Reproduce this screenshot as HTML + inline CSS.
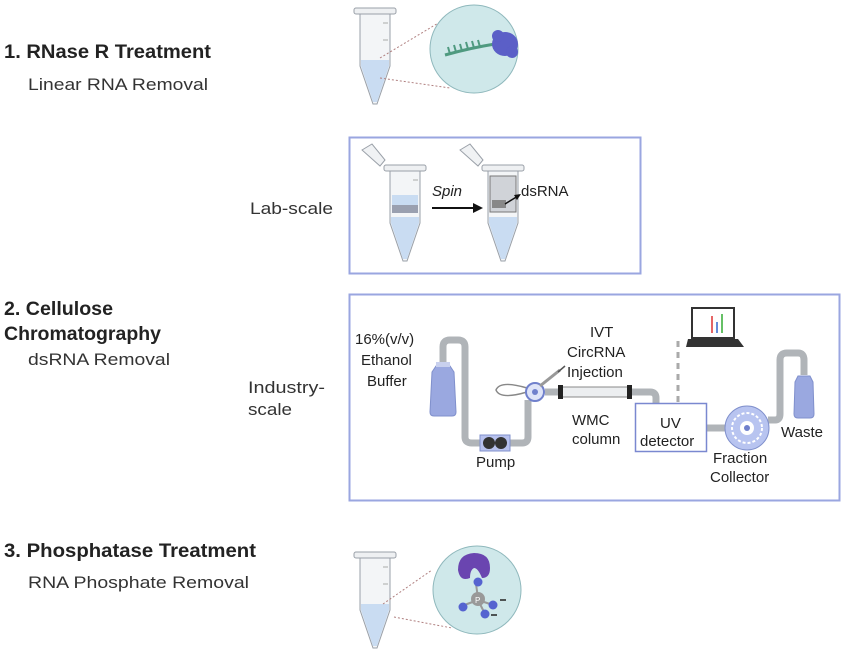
<!DOCTYPE html>
<html><head><meta charset="utf-8"><style>
html,body{margin:0;padding:0;background:#fff;}
svg{display:block;font-family:"Liberation Sans",Arial,sans-serif;}
</style></head><body>
<svg width="849" height="654" viewBox="0 0 849 654" xmlns="http://www.w3.org/2000/svg">
<defs>
<g id="tube">
  <rect x="-4" y="0" width="42" height="6" rx="2" fill="#eef0f2" stroke="#9aa0a8"/>
  <path d="M2 6 L32 6 L32 58 L19 96 L15 96 L2 58 Z" fill="#f3f5f7" stroke="#9aa0a8"/>
  <path d="M3 52 L31 52 L31 58 L19 94 L15 94 L3 58 Z" fill="#c9dcf2" stroke="none"/>
  <line x1="25" y1="15" x2="30" y2="15" stroke="#aaa"/>
  <line x1="25" y1="32" x2="30" y2="32" stroke="#aaa"/>
</g>
</defs>

<!-- left labels -->
<text x="4" y="58" font-size="19" font-weight="bold" fill="#222" textLength="207" lengthAdjust="spacingAndGlyphs">1. RNase R Treatment</text>
<text x="28" y="90" font-size="17" fill="#333" textLength="180" lengthAdjust="spacingAndGlyphs">Linear RNA Removal</text>
<text x="4" y="315" font-size="19" font-weight="bold" fill="#222" textLength="109" lengthAdjust="spacingAndGlyphs">2. Cellulose</text>
<text x="4" y="340" font-size="19" font-weight="bold" fill="#222" textLength="157" lengthAdjust="spacingAndGlyphs">Chromatography</text>
<text x="28" y="365" font-size="17" fill="#333" textLength="142" lengthAdjust="spacingAndGlyphs">dsRNA Removal</text>
<text x="4" y="557" font-size="19" font-weight="bold" fill="#222" textLength="252" lengthAdjust="spacingAndGlyphs">3. Phosphatase Treatment</text>
<text x="28" y="588" font-size="17" fill="#333" textLength="221" lengthAdjust="spacingAndGlyphs">RNA Phosphate Removal</text>
<text x="250" y="214" font-size="17" fill="#333" textLength="83" lengthAdjust="spacingAndGlyphs">Lab-scale</text>
<text x="248" y="393" font-size="17" fill="#333" textLength="77" lengthAdjust="spacingAndGlyphs">Industry-</text>
<text x="248" y="415" font-size="17" fill="#333" textLength="44" lengthAdjust="spacingAndGlyphs">scale</text>

<!-- step 1 -->
<use href="#tube" transform="translate(358,8)"/>
<line x1="380" y1="58" x2="440" y2="22" stroke="#b08080" stroke-dasharray="2,2"/>
<line x1="380" y1="78" x2="450" y2="88" stroke="#b08080" stroke-dasharray="2,2"/>
<circle cx="474" cy="49" r="44" fill="#cfe8ea" stroke="#8fb8bc"/>
<path d="M445 55 Q470 48 495 44" stroke="#4f9a80" stroke-width="3" fill="none"/>
<g stroke="#4f9a80" stroke-width="2">
<line x1="450" y1="54" x2="448" y2="47"/><line x1="456" y1="52" x2="454" y2="45"/><line x1="462" y1="51" x2="460" y2="44"/><line x1="468" y1="49" x2="466" y2="42"/><line x1="474" y1="48" x2="472" y2="41"/><line x1="480" y1="47" x2="478" y2="40"/>
</g>
<ellipse cx="505" cy="44" rx="13" ry="12" fill="#5b5fc7"/>
<circle cx="498" cy="36" r="6" fill="#5b5fc7"/><circle cx="512" cy="52" r="6" fill="#5b5fc7"/>

<!-- lab box -->
<rect x="349.5" y="137.5" width="291" height="136" fill="none" stroke="#9aa6e0" stroke-width="2"/>
<path d="M362 150 L372 144 L385 160 L380 166 Z" fill="#f0f2f4" stroke="#9aa0a8"/>
<use href="#tube" transform="translate(388,165)"/>
<rect x="392" y="195" width="26" height="14" fill="#c9dcf2"/>
<rect x="392" y="205" width="26" height="8" fill="#9aa0b0"/>
<path d="M460 150 L470 144 L483 160 L478 166 Z" fill="#f0f2f4" stroke="#9aa0a8"/>
<use href="#tube" transform="translate(486,165)"/>
<rect x="490" y="176" width="26" height="36" fill="#d0d3d8" stroke="#777"/>
<rect x="492" y="200" width="14" height="8" fill="#888"/>
<line x1="432" y1="208" x2="475" y2="208" stroke="#111" stroke-width="2"/>
<path d="M483 208 L473 203 L473 213 Z" fill="#111"/>
<line x1="505" y1="204" x2="518" y2="196" stroke="#111" stroke-width="1.5"/>
<path d="M521 194 L514 195 L517 200 Z" fill="#111"/>
<text x="432" y="196" font-size="15" font-style="italic" fill="#222">Spin</text>
<text x="521" y="196" font-size="15" fill="#222">dsRNA</text>

<!-- industry box -->
<rect x="349.5" y="294.5" width="490" height="206" fill="none" stroke="#9aa6e0" stroke-width="2"/>
<g fill="none" stroke="#b0b4b8" stroke-width="7" stroke-linejoin="round">
<path d="M443 365 L443 347 Q443 340 450 340 L458 340 Q465 340 465 347 L465 437 Q465 443 472 443 L485 443"/>
<path d="M510 443 L522 443 Q528 443 528 437 L528 400"/>
<path d="M545 392 L650 392 Q656 392 656 398 L656 405"/>
<path d="M707 428 L730 428"/>
<path d="M768 420 L775 420 Q780 420 780 414 L780 360 Q780 353 787 353 L798 353 Q804 353 804 360 L804 375"/>
</g>
<path d="M432 372 L436 366 L450 366 L454 372 L456 412 Q456 416 452 416 L434 416 Q430 416 430 412 Z" fill="#9aa8e0" stroke="#8090cc"/>
<rect x="436" y="362" width="14" height="5" fill="#c8d0ee"/>
<rect x="480" y="435" width="30" height="16" fill="#b8c2ee" stroke="#8090cc"/>
<circle cx="489" cy="443" r="6" fill="#333"/><circle cx="501" cy="443" r="6" fill="#333"/>
<text x="476" y="467" font-size="15" fill="#222">Pump</text>
<path d="M527 392 Q500 400 496 390 Q500 380 527 388" fill="none" stroke="#888" stroke-width="1.5"/>
<circle cx="535" cy="392" r="9" fill="#dfe4f8" stroke="#7080cc" stroke-width="2"/>
<circle cx="535" cy="392" r="3" fill="#7080cc"/>
<line x1="540" y1="386" x2="560" y2="370" stroke="#999" stroke-width="3"/>
<line x1="558" y1="372" x2="565" y2="366" stroke="#555" stroke-width="1.5"/>
<rect x="560" y="387" width="70" height="10" fill="#eceef0" stroke="#888"/>
<rect x="558" y="385" width="5" height="14" fill="#222"/><rect x="627" y="385" width="5" height="14" fill="#222"/>
<text x="590" y="337" font-size="15" fill="#222">IVT</text>
<text x="567" y="357" font-size="15" fill="#222">CircRNA</text>
<text x="567" y="377" font-size="15" fill="#222">Injection</text>
<text x="572" y="425" font-size="15" fill="#222">WMC</text>
<text x="572" y="444" font-size="15" fill="#222">column</text>
<rect x="635.5" y="403.5" width="71" height="48" fill="#fff" stroke="#7a88d0" stroke-width="1.5"/>
<text x="660" y="428" font-size="15" fill="#222">UV</text>
<text x="640" y="446" font-size="15" fill="#222">detector</text>
<path d="M678 402 L678 340" stroke="#aaa" stroke-width="3" stroke-dasharray="6,5"/>
<rect x="692" y="308" width="42" height="30" fill="#fff" stroke="#333" stroke-width="2"/>
<line x1="712" y1="316" x2="712" y2="333" stroke="#d33" stroke-width="1.5"/>
<line x1="717" y1="322" x2="717" y2="333" stroke="#36c" stroke-width="1.5"/>
<line x1="722" y1="314" x2="722" y2="333" stroke="#3a3" stroke-width="1.5"/>
<path d="M688 339 L738 339 L744 347 L686 347 Z" fill="#333"/>
<circle cx="747" cy="428" r="22" fill="#b8c4f0" stroke="#8090cc"/>
<circle cx="747" cy="428" r="15" fill="none" stroke="#fff" stroke-width="2" stroke-dasharray="3,2"/>
<circle cx="747" cy="428" r="7" fill="#fff"/><circle cx="747" cy="428" r="3" fill="#7080cc"/>
<text x="713" y="463" font-size="15" fill="#222">Fraction</text>
<text x="710" y="482" font-size="15" fill="#222">Collector</text>
<path d="M795 382 L798 376 L810 376 L813 382 L814 414 Q814 418 810 418 L798 418 Q794 418 794 414 Z" fill="#9aa8e0" stroke="#8090cc"/>
<text x="781" y="437" font-size="15" fill="#222">Waste</text>
<text x="355" y="344" font-size="15" fill="#222">16%(v/v)</text>
<text x="361" y="365" font-size="15" fill="#222">Ethanol</text>
<text x="367" y="386" font-size="15" fill="#222">Buffer</text>

<!-- step 3 -->
<use href="#tube" transform="translate(358,552)"/>
<line x1="383" y1="604" x2="432" y2="570" stroke="#b08080" stroke-dasharray="2,2"/>
<line x1="394" y1="617" x2="452" y2="628" stroke="#b08080" stroke-dasharray="2,2"/>
<circle cx="477" cy="590" r="44" fill="#cfe8ea" stroke="#8fb8bc"/>
<path d="M470 578 Q460 582 458 570 Q458 554 474 553 Q490 553 490 568 Q490 578 482 578 Q478 568 474 568 Q470 570 470 578 Z" fill="#6a45b0"/>
<line x1="476" y1="584" x2="478" y2="598" stroke="#999" stroke-width="2"/>
<line x1="459" y1="607" x2="478" y2="600" stroke="#999" stroke-width="2"/>
<line x1="478" y1="600" x2="493" y2="605" stroke="#999" stroke-width="2"/>
<line x1="478" y1="600" x2="485" y2="614" stroke="#999" stroke-width="2"/>
<circle cx="478" cy="599" r="7" fill="#999"/>
<text x="475" y="603" font-size="8" fill="#fff">P</text>
<circle cx="478" cy="582" r="4.5" fill="#5563d0"/>
<circle cx="463" cy="607" r="4.5" fill="#5563d0"/>
<circle cx="493" cy="605" r="4.5" fill="#5563d0"/>
<circle cx="485" cy="614" r="4.5" fill="#5563d0"/>
<line x1="500" y1="600" x2="506" y2="600" stroke="#222" stroke-width="1.5"/>
<line x1="491" y1="615" x2="497" y2="615" stroke="#222" stroke-width="1.5"/>
</svg>
</body></html>
